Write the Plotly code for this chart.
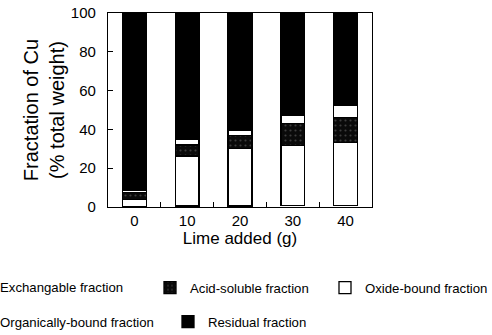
import plotly.graph_objects as go

# ---- data ----
categories = ["0", "10", "20", "30", "40"]
exchangable = [0.4, 0.5, 0.5, 0.6, 0.6]
oxide_bound = [3.6, 25.8, 29.7, 31.0, 32.7]
acid_soluble = [3.6, 5.7, 6.6, 11.5, 12.9]
organic_bound = [1.2, 3.0, 2.9, 4.0, 6.4]
residual = [91.2, 65.0, 60.3, 52.9, 47.4]
y_ticks = [0, 20, 40, 60, 80, 100]

FONT = "Liberation Sans, Arial, sans-serif"
W, H = 492, 335
ML, MR, MT, MB = 108, 120, 13, 128
PW, PH = W - ML - MR, H - MT - MB
BW = 0.45
LINE = dict(color="black", width=1.3)
LEGFONT = 13.2

fig = go.Figure()
fig.add_trace(go.Bar(x=categories, y=exchangable, name="Exchangable fraction", width=BW,
                     marker=dict(color="white", line=dict(color="white", width=0)),
                     showlegend=False))
fig.add_trace(go.Bar(x=categories, y=oxide_bound, name="Oxide-bound fraction", width=BW,
                     marker=dict(color="white", line=LINE), legend="legend3"))
fig.add_trace(go.Bar(x=categories, y=acid_soluble, name="Acid-soluble fraction", width=BW,
                     marker=dict(color="#0a0a0a", line=LINE,
                                 pattern=dict(shape=".", bgcolor="#0a0a0a", fgcolor="#707070",
                                              size=5, solidity=0.15)),
                     legend="legend2"))
fig.add_trace(go.Bar(x=categories, y=organic_bound, name="Organically-bound fraction", width=BW,
                     marker=dict(color="white", line=LINE), showlegend=False))
fig.add_trace(go.Bar(x=categories, y=residual, name="Residual fraction", width=BW,
                     marker=dict(color="black", line=LINE), legend="legend5"))


def leg(xpx, ypx):
    return dict(x=xpx / W, y=1 - ypx / H, xref="container", yref="container",
                xanchor="left", yanchor="middle", orientation="h",
                bgcolor="rgba(0,0,0,0)", borderwidth=0,
                font=dict(family=FONT, size=LEGFONT, color="black"))


def text_entry(label, xpx, ypx):
    # legend entries that have no visible swatch in the original
    return dict(text=label, xref="paper", yref="paper",
                x=(xpx - ML) / PW, y=(H - MB - ypx) / PH,
                xanchor="left", yanchor="middle", showarrow=False,
                font=dict(family=FONT, size=LEGFONT, color="black"))


fig.update_layout(
    width=W, height=H,
    margin=dict(l=ML, r=MR, t=MT, b=MB, autoexpand=False),
    paper_bgcolor="white", plot_bgcolor="white",
    barmode="stack",
    font=dict(family=FONT, color="black"),
    legend2=leg(150, 288),
    legend3=leg(325, 288),
    legend5=leg(168, 322),
    annotations=[text_entry("Exchangable fraction", -2, 287),
                 text_entry("Organically-bound fraction", -2, 322)],
    xaxis=dict(type="category", range=[-0.5, 4.5], showline=True, linecolor="black",
               linewidth=1.3, mirror=True, ticks="inside", ticklen=5, tickcolor="black",
               tickson="boundaries", showgrid=False, zeroline=False,
               tickfont=dict(size=15, family=FONT),
               title=dict(text="Lime added (g)", font=dict(size=17, family=FONT), standoff=2)),
    yaxis=dict(range=[0, 100], tickvals=y_ticks, showline=True, linecolor="black",
               linewidth=1.3, mirror=True, ticks="inside", ticklen=5, tickcolor="black",
               showgrid=False, zeroline=False, ticklabelstandoff=8,
               tickfont=dict(size=15, family=FONT),
               title=dict(text="Fractation of Cu<br>(% total weight)",
                          font=dict(size=20, family=FONT), standoff=0)),
)

fig.write_html("out.html")
